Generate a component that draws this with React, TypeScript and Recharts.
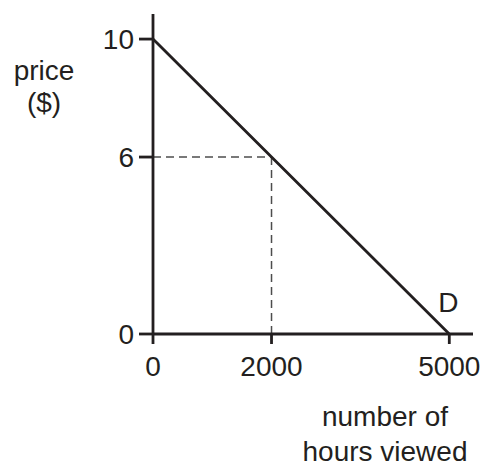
import { LineChart, Line, XAxis, YAxis, ReferenceLine, ReferenceDot, Label } from "recharts";

const hours = [0, 2000, 5000];
const prices = [10, 6, 0];
const xTicks = [0, 2000, 5000];
const yTicks = [0, 6, 10];
const yLabelLines = ["price", "($)"];
const xLabelLines = ["number of", "hours viewed"];
const curveName = "D";

const data = hours.map((h, i) => ({ hours: h, price: prices[i] }));
const guide = data[1];

const ink = "#231f20";
const font = "'Liberation Sans', Arial, sans-serif";
const fs = 28;

const App = () => {
  return (
    <div style={{ position: "absolute", left: 0, top: 0, width: 486, height: 473, background: "#fff" }}>
      <LineChart
        width={486}
        height={473}
        data={data}
        margin={{ top: 14, right: 13, left: 0, bottom: 89 }}
        style={{ fontFamily: font }}
      >
        <XAxis
          dataKey="hours"
          type="number"
          domain={[0, 5400]}
          ticks={xTicks}
          allowDataOverflow
          height={50}
          stroke={ink}
          strokeWidth={2.8}
          tickSize={10}
          tickMargin={12}
          tick={{ fill: ink, fontSize: fs, fontFamily: font }}
          label={{
            content: (props: any) => {
              const vb = props.viewBox || {};
              return (
                <text x={vb.x + 232} y={vb.y + 92} textAnchor="middle" fill={ink} fontSize={fs} fontFamily={font}>
                  {xLabelLines.map((t, i) => (
                    <tspan key={t} x={vb.x + 232} dy={i === 0 ? 0 : 35}>
                      {t}
                    </tspan>
                  ))}
                </text>
              );
            },
          }}
        />
        <YAxis
          dataKey="price"
          type="number"
          domain={[0, 10.85]}
          ticks={yTicks}
          allowDataOverflow
          width={153}
          stroke={ink}
          strokeWidth={2.8}
          tickSize={14}
          tickMargin={5}
          tick={{ fill: ink, fontSize: fs, fontFamily: font }}
        >
          <Label
            content={(props: any) => {
              const vb = props.viewBox || {};
              return (
                <text x={vb.x + 44} y={vb.y + 66} textAnchor="middle" fill={ink} fontSize={fs} fontFamily={font}>
                  {yLabelLines.map((t, i) => (
                    <tspan key={t} x={vb.x + 44} dy={i === 0 ? 0 : 32}>
                      {t}
                    </tspan>
                  ))}
                </text>
              );
            }}
          />
        </YAxis>
        <ReferenceLine
          segment={[
            { x: 0, y: guide.price },
            { x: guide.hours, y: guide.price },
          ]}
          stroke="#4d4d4d"
          strokeWidth={1.5}
          strokeDasharray="8 5"
        />
        <ReferenceLine
          segment={[
            { x: guide.hours, y: guide.price },
            { x: guide.hours, y: 0 },
          ]}
          stroke="#4d4d4d"
          strokeWidth={1.5}
          strokeDasharray="8 5"
        />
        <Line
          dataKey="price"
          type="linear"
          stroke={ink}
          strokeWidth={2.8}
          dot={false}
          activeDot={false}
          isAnimationActive={false}
        />
        <ReferenceDot
          x={hours[hours.length - 1]}
          y={prices[prices.length - 1]}
          r={0}
          fill="none"
          stroke="none"
          ifOverflow="visible"
          label={{
            content: (props: any) => {
              const vb = props.viewBox || {};
              return (
                <text x={vb.x - 1} y={vb.y - 22} textAnchor="middle" fill={ink} fontSize={fs} fontFamily={font}>
                  {curveName}
                </text>
              );
            },
          }}
        />
      </LineChart>
    </div>
  );
};

export default App;
